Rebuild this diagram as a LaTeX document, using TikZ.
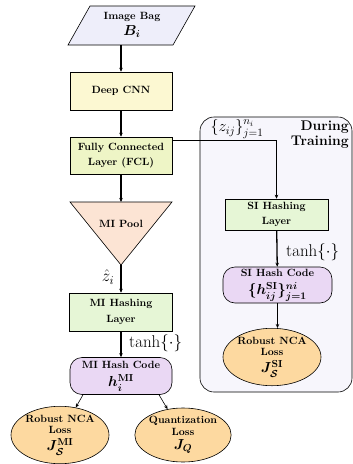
\documentclass[tikz,border=0pt]{standalone}
\usepackage{fix-cm}
\usepackage{amsmath,amssymb,bm}
\usetikzlibrary{shapes.geometric,arrows.meta}
\definecolor{bagc}{HTML}{EEEEFA}
\definecolor{cnnc}{HTML}{FCF8D2}
\definecolor{fclc}{HTML}{EEF5C6}
\definecolor{poolc}{HTML}{FCE4D4}
\definecolor{hashc}{HTML}{E6F6D6}
\definecolor{codec}{HTML}{EAD8F4}
\definecolor{lossc}{HTML}{FDD9A0}
\definecolor{panelc}{HTML}{F7F6FC}
\newcommand{\mbigx}[1]{{\fontsize{14.5}{14.5}\selectfont$\bm{#1}$}}
\begin{document}
\begin{tikzpicture}[x=1pt,y=-1pt,
  lbl/.style={font=\fontsize{10.5}{11.5}\selectfont\bfseries\boldmath, align=center, inner sep=0pt},
  boxnode/.style={draw, line width=0.6pt, lbl},
  codenode/.style={draw, line width=0.6pt, rounded corners=12pt, fill=codec, lbl},
  lossnode/.style={draw, line width=0.6pt, ellipse, fill=lossc, lbl},
  mainarrow/.style={line width=1.3pt, -{Stealth[length=4pt,width=3.5pt]}},
  thinarrow/.style={line width=0.6pt, -{Stealth[length=4pt,width=3.5pt]}},
  bigmath/.style={font=\fontsize{17}{18}\selectfont, inner sep=0pt}
]
\useasboundingbox (0,0) rectangle (353,464);
% panel
\draw[line width=0.6pt, fill=panelc, rounded corners=14pt] (200,117) rectangle (352,392);
\node[font=\fontsize{14}{15}\selectfont\bfseries, align=right, inner sep=0pt, anchor=north east] (during) at (349,121) {During\\Training};
% image bag
\draw[line width=0.6pt, fill=bagc] (90,6) -- (195,6) -- (173,45) -- (68,45) -- cycle;
\node[lbl] (bag) at (132,25) {Image Bag\\[3pt]\mbigx{B_i}};
\coordinate (bagb) at (121,45);
% deep cnn
\node[boxnode, fill=cnnc, minimum width=102pt, minimum height=38pt] (cnn) at (121,91) {Deep CNN};
% fcl
\node[boxnode, fill=fclc, minimum width=102pt, minimum height=37pt] (fcl) at (121,155.5) {Fully Connected\\[4pt]Layer (FCL)};
% MI pool triangle
\draw[line width=0.6pt, fill=poolc] (70,202) -- (172,202) -- (121,265) -- cycle;
\coordinate (pooltop) at (121,202);
\coordinate (poolapex) at (121,265);
\node[lbl] (pool) at (121,224) {MI Pool};
% MI hashing
\node[boxnode, fill=hashc, minimum width=103pt, minimum height=38pt] (mih) at (121,312) {MI Hashing\\[4pt]Layer};
% MI hash code
\node[codenode, minimum width=102pt, minimum height=37pt] (mic) at (121,376) {MI Hash Code\\[5pt]\mbigx{h_i^{\mathrm{MI}}}};
% losses
\node[lossnode, minimum width=94pt, minimum height=54pt] (nca1) at (60,435) {Robust NCA\\Loss\\[4pt]\mbigx{J_{\mathcal{S}}^{\mathrm{MI}}}};
\node[lossnode, minimum width=94pt, minimum height=54pt] (quant) at (183,435) {Quantization\\Loss\\[3pt]\mbigx{J_Q}};
% SI branch
\node[boxnode, fill=hashc, minimum width=103pt, minimum height=31pt] (sih) at (276.5,214.5) {SI Hashing\\[4pt]Layer};
\node[codenode, minimum width=109pt, minimum height=36pt] (sic) at (277.5,285) {SI Hash Code\\[5pt]\mbigx{\{h_{ij}^{\mathrm{SI}}\}_{j=1}^{ni}}};
\node[lossnode, minimum width=94pt, minimum height=50pt] (nca2) at (272,357) {Robust NCA\\Loss\\[4pt]\mbigx{J_{\mathcal{S}}^{\mathrm{SI}}}};
% labels
\node[bigmath] (zhat) at (108,277) {$\hat{z}_i$};
\node[bigmath, anchor=west] (tanh1) at (129,343) {$\tanh\{\cdot\}$};
\node[bigmath, anchor=west] (tanh2) at (286,252) {$\tanh\{\cdot\}$};
\node[font=\fontsize{16}{17}\selectfont, inner sep=0pt] (zij) at (237,129) {$\{z_{ij}\}_{j=1}^{n_i}$};
% arrows
\draw[mainarrow] (bagb) -- (cnn.north);
\draw[mainarrow] (cnn) -- (fcl);
\draw[mainarrow] (fcl) -- (pooltop);
\draw[mainarrow] (poolapex) -- (mih.north);
\draw[mainarrow] (mih) -- (mic);
\draw[thinarrow] ([xshift=-38pt]mic.south) -- (nca1);
\draw[thinarrow] ([xshift=38pt]mic.south) -- (quant);
\draw[thinarrow] ([yshift=15.5pt]fcl.east) -| (sih.north);
\draw[mainarrow] (sih) -- (sic);
\draw[thinarrow, line width=0.9pt] (sic.south) -- (sic.south |- nca2.north);
\end{tikzpicture}
\end{document}
